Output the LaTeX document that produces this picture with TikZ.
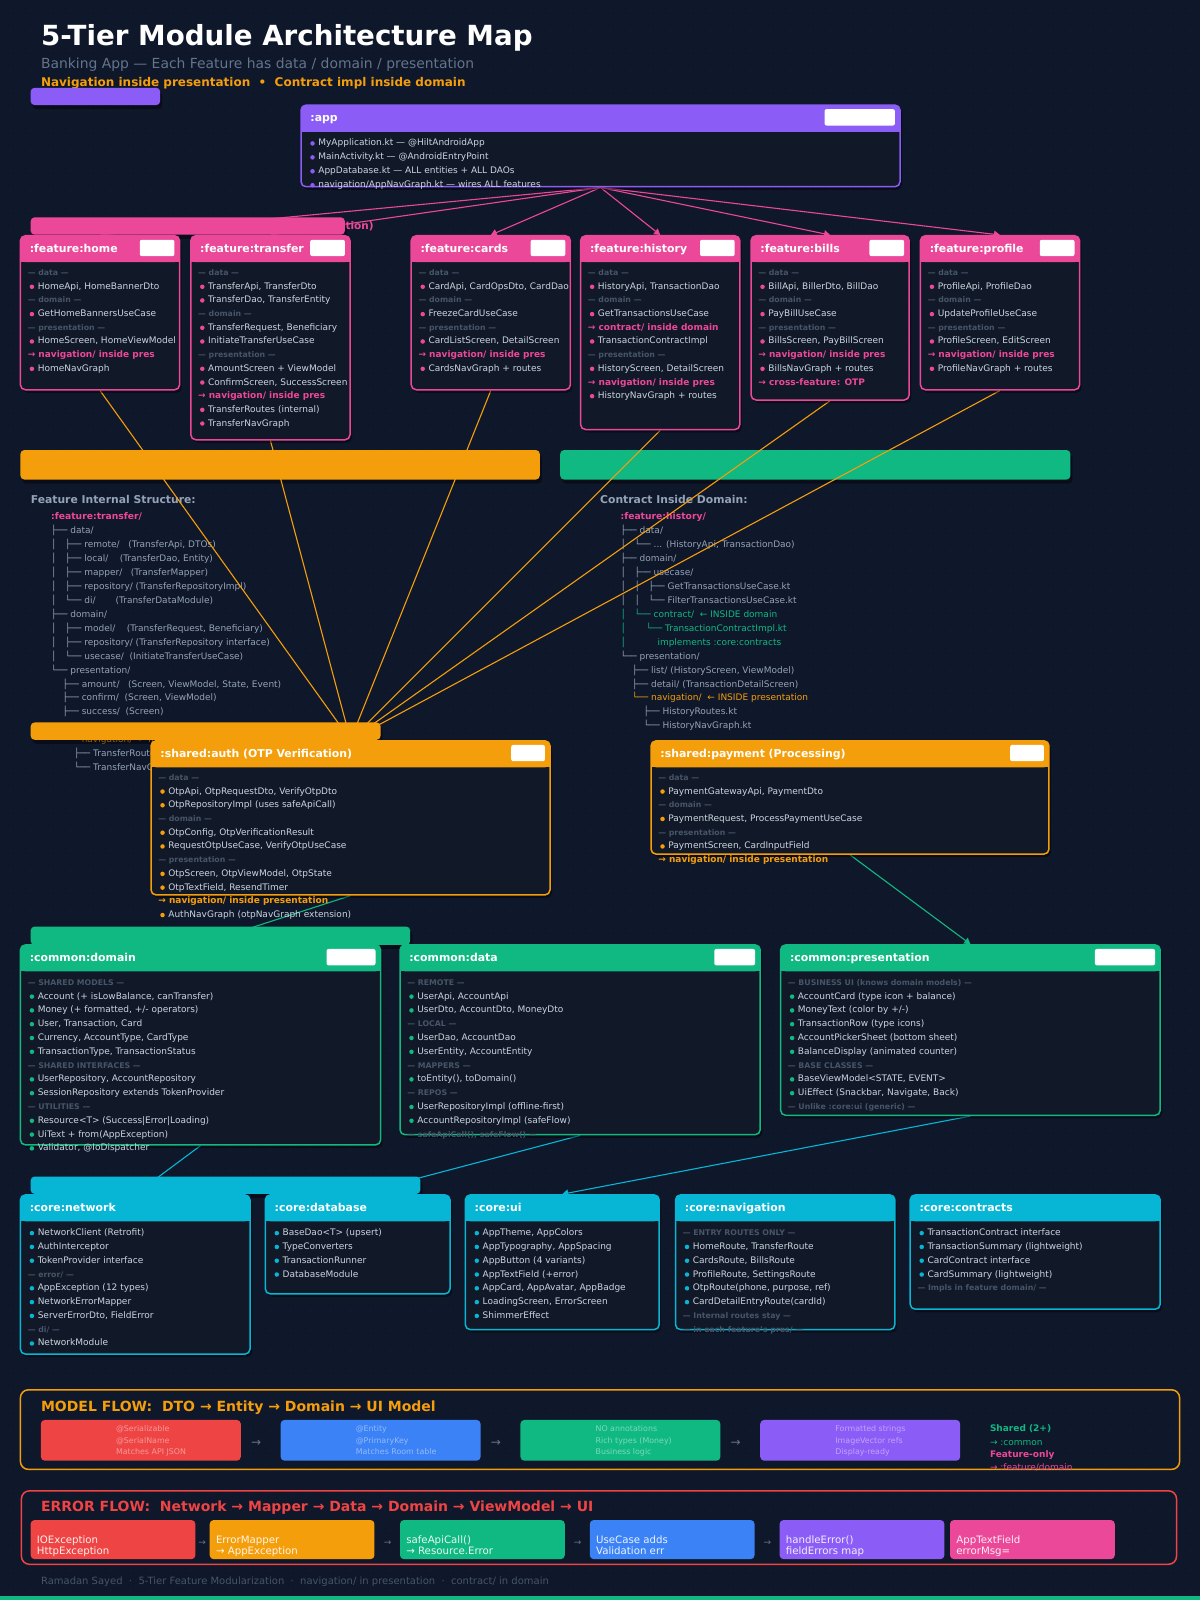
\documentclass[tikz,border=0pt]{standalone}
\usepackage{fontspec}
\setmainfont{DejaVu Sans}
\usetikzlibrary{arrows.meta,fit}
\pgfdeclarelayer{background}
\pgfdeclarelayer{links}
\pgfdeclarelayer{pills}
\pgfsetlayers{background,links,pills,main}

\definecolor{bg}{HTML}{0F172A}
\definecolor{panel}{HTML}{111827}
\definecolor{gridc}{HTML}{1B2539}
\definecolor{purp}{HTML}{8B5CF6}
\definecolor{pinkc}{HTML}{EC4899}
\definecolor{orng}{HTML}{F59E0B}
\definecolor{grn}{HTML}{10B981}
\definecolor{cyn}{HTML}{06B6D4}
\definecolor{redc}{HTML}{EF4444}
\definecolor{blu}{HTML}{3B82F6}
\definecolor{txt}{HTML}{CBD5E1}
\definecolor{muted}{HTML}{94A3B8}
\definecolor{sub}{HTML}{64748B}
\definecolor{dim}{HTML}{475569}

\tikzset{
  item/.style={anchor=base west, inner sep=0pt, text height=6.5pt, text depth=1.5pt, text=txt, font=\fontsize{9}{11}\selectfont},
  sc/.style={item, text=dim, font=\fontsize{7.8}{9}\selectfont\bfseries},
  bl/.style={item, xshift=10pt, label={[circle, fill=\curacc, inner sep=0pt, minimum size=4.5pt, text height=0pt, text depth=0pt, xshift=-3.2pt]west:{}}},
  ar/.style={item, text=\curacc, font=\fontsize{9}{11}\selectfont\bfseries},
  tr/.style={item, text=muted},
  trp/.style={item, text=pinkc, font=\fontsize{9.2}{11}\selectfont\bfseries},
  trg/.style={item, text=grn},
  tro/.style={item, text=orng},
  treehead/.style={anchor=base west, inner sep=0pt, text=muted, font=\fontsize{10.8}{12}\selectfont\bfseries},
  boxtitle/.style={anchor=base west, inner sep=0pt, text=white, font=\fontsize{10.9}{12}\selectfont\bfseries},
  modframe/.style={draw=#1, line width=1.5pt, rounded corners=5pt, inner sep=0pt},
  link/.style={draw=#1, line width=1.1pt, -{Triangle[width=7pt,length=6pt]}},
  flowtitle/.style={anchor=base west, inner sep=0pt, font=\fontsize{14}{16}\selectfont\bfseries},
  cardtxt/.style={anchor=base west, inner sep=0pt, text=white, text opacity=.45, font=\fontsize{7.9}{9}\selectfont},
  errtxt/.style={anchor=base west, inner sep=0pt, text=white, text opacity=.9, font=\fontsize{10.2}{12}\selectfont},
  flowarrow/.style={inner sep=0pt, text=sub, font=\fontsize{12}{12}\selectfont},
  sidetxt/.style={anchor=base west, inner sep=0pt, font=\fontsize{9}{11}\selectfont}
}

\newcommand\modbox[8]{%
  \fill[black, opacity=.4, rounded corners=5pt] (#2+2,#3+3) rectangle (#4+2,#5+3);
  \fill[panel, rounded corners=5pt] (#2,#3) rectangle (#4,#5);
  \fill[#6, rounded corners=5pt] (#2,#3) rectangle (#4,#3+26);
  \fill[#6] (#2,#3+12) rectangle (#4,#3+26);
  \node[modframe=#6, fit={(#2,#3) (#4,#5)}] (#1) {};
  \node[boxtitle] (#1-title) at (#2+9,#3+16) {#7};
  \ifnum#8>0 \fill[white, rounded corners=2pt] (#4-5-#8,#3+4) rectangle (#4-5,#3+20);\fi
}
\newcommand\modlist[6]{%
  \def\curacc{#5}%
  \foreach \knd/\itm [count=\ix from 0] in {#6}{%
    \node[\knd] (#1\ix) at (#2,#3+3.2+\ix*#4) {\itm};
  }}
\newcommand\pill[5]{%
  \fill[black, opacity=.4, rounded corners=4pt] (#1+2,#2+4) rectangle (#3+2,#4+4);
  \fill[#5, rounded corners=4pt] (#1,#2) rectangle (#3,#4);}

\begin{document}
\begin{tikzpicture}[x=1.0204pt, y=-1.0204pt]
\useasboundingbox (0,0) rectangle (1176,1568);

\begin{pgfonlayer}{background}
\fill[bg] (0,0) rectangle (1176,1568);
\foreach \gx in {10,29.6,...,1176}
  \foreach \gy in {10,29.6,...,1568}
    \fill[gridc] (\gx,\gy) circle (0.6pt);
\node[anchor=base west, inner sep=0pt, text=orng, font=\fontsize{12}{14}\selectfont\bfseries] (tagline) at (40,84.3) {Navigation inside presentation~~•~~Contract impl inside domain};
\pill{20}{441}{529}{470}{orng}
\pill{549}{441}{1049}{470}{grn}
\node[treehead] (lefthead) at (30,493) {Feature Internal Structure:};
\node[treehead] (righthead) at (588,493) {Contract Inside Domain:};
\modlist{ltree}{50}{506.3}{13.65}{muted}{trp/{:feature:transfer/},
  tr/{├── data/},
  tr/{│~~~├── remote/~~~(TransferApi, DTOs)},
  tr/{│~~~├── local/~~~~(TransferDao, Entity)},
  tr/{│~~~├── mapper/~~~(TransferMapper)},
  tr/{│~~~├── repository/ (TransferRepositoryImpl)},
  tr/{│~~~└── di/~~~~~~~(TransferDataModule)},
  tr/{├── domain/},
  tr/{│~~~├── model/~~~~(TransferRequest, Beneficiary)},
  tr/{│~~~├── repository/ (TransferRepository interface)},
  tr/{│~~~└── usecase/~~(InitiateTransferUseCase)},
  tr/{└── presentation/},
  tr/{~~~~├── amount/~~~(Screen, ViewModel, State, Event)},
  tr/{~~~~├── confirm/~~(Screen, ViewModel)},
  tr/{~~~~├── success/~~(Screen)}}
\modlist{ltreeb}{50}{724.7}{13.65}{muted}{tro/{~~~~└── navigation/~~← INSIDE presentation},
  tr/{~~~~~~~~├── TransferRoutes.kt},
  tr/{~~~~~~~~└── TransferNavGraph.kt}}
\modlist{rtree}{608}{506.3}{13.65}{muted}{trp/{:feature:history/},
  tr/{├── data/},
  tr/{│~~~└── ... (HistoryApi, TransactionDao)},
  tr/{├── domain/},
  tr/{│~~~├── usecase/},
  tr/{│~~~│~~~├── GetTransactionsUseCase.kt},
  tr/{│~~~│~~~└── FilterTransactionsUseCase.kt},
  trg/{│~~~└── contract/~~← INSIDE domain},
  trg/{│~~~~~~~└── TransactionContractImpl.kt},
  trg/{│~~~~~~~~~~~implements :core:contracts},
  tr/{└── presentation/},
  tr/{~~~~├── list/ (HistoryScreen, ViewModel)},
  tr/{~~~~├── detail/ (TransactionDetailScreen)},
  tro/{~~~~└── navigation/~~← INSIDE presentation},
  tr/{~~~~~~~~├── HistoryRoutes.kt},
  tr/{~~~~~~~~└── HistoryNavGraph.kt}}
\end{pgfonlayer}

\node[anchor=base west, inner sep=0pt, text=white, font=\fontsize{27.7}{32}\selectfont\bfseries] (title) at (40,44.8) {5-Tier Module Architecture Map};
\node[anchor=base west, inner sep=0pt, text=sub, font=\fontsize{13.9}{16}\selectfont] (subtitle) at (40,67) {Banking App — Each Feature has data / domain / presentation};

\modbox{app}{295}{103}{882}{183}{purp}{:app}{69}
\modlist{app}{302}{139.8}{13.65}{purp}{bl/{MyApplication.kt — @HiltAndroidApp},
  bl/{MainActivity.kt — @AndroidEntryPoint},
  bl/{AppDatabase.kt — ALL entities + ALL DAOs},
  bl/{navigation/AppNavGraph.kt — wires ALL features}}

\modbox{home}{20}{231}{176}{382}{pinkc}{:feature:home}{34}
\modlist{home}{27}{266.9}{13.4}{pinkc}{sc/{— data —}, bl/{HomeApi, HomeBannerDto},
  sc/{— domain —}, bl/{GetHomeBannersUseCase},
  sc/{— presentation —}, bl/{HomeScreen, HomeViewModel},
  ar/{→ navigation/ inside pres}, bl/{HomeNavGraph}}
\modbox{transfer}{187}{231}{343}{431}{pinkc}{:feature:transfer}{34}
\modlist{transfer}{194}{266.9}{13.4}{pinkc}{sc/{— data —}, bl/{TransferApi, TransferDto},
  bl/{TransferDao, TransferEntity},
  sc/{— domain —}, bl/{TransferRequest, Beneficiary}, bl/{InitiateTransferUseCase},
  sc/{— presentation —}, bl/{AmountScreen + ViewModel}, bl/{ConfirmScreen, SuccessScreen},
  ar/{→ navigation/ inside pres}, bl/{TransferRoutes (internal)}, bl/{TransferNavGraph}}
\modbox{cards}{403}{231}{559}{382}{pinkc}{:feature:cards}{34}
\modlist{cards}{410}{266.9}{13.4}{pinkc}{sc/{— data —}, bl/{CardApi, CardOpsDto, CardDao},
  sc/{— domain —}, bl/{FreezeCardUseCase},
  sc/{— presentation —}, bl/{CardListScreen, DetailScreen},
  ar/{→ navigation/ inside pres}, bl/{CardsNavGraph + routes}}
\modbox{history}{569}{231}{725}{421}{pinkc}{:feature:history}{34}
\modlist{history}{576}{266.9}{13.4}{pinkc}{sc/{— data —}, bl/{HistoryApi, TransactionDao},
  sc/{— domain —}, bl/{GetTransactionsUseCase},
  ar/{→ contract/ inside domain}, bl/{TransactionContractImpl},
  sc/{— presentation —}, bl/{HistoryScreen, DetailScreen},
  ar/{→ navigation/ inside pres}, bl/{HistoryNavGraph + routes}}
\modbox{bills}{736}{231}{891}{392}{pinkc}{:feature:bills}{34}
\modlist{bills}{743}{266.9}{13.4}{pinkc}{sc/{— data —}, bl/{BillApi, BillerDto, BillDao},
  sc/{— domain —}, bl/{PayBillUseCase},
  sc/{— presentation —}, bl/{BillsScreen, PayBillScreen},
  ar/{→ navigation/ inside pres}, bl/{BillsNavGraph + routes},
  ar/{→ cross-feature: OTP}}
\modbox{profile}{902}{231}{1058}{382}{pinkc}{:feature:profile}{34}
\modlist{profile}{909}{266.9}{13.4}{pinkc}{sc/{— data —}, bl/{ProfileApi, ProfileDao},
  sc/{— domain —}, bl/{UpdateProfileUseCase},
  sc/{— presentation —}, bl/{ProfileScreen, EditScreen},
  ar/{→ navigation/ inside pres}, bl/{ProfileNavGraph + routes}}

\modbox{auth}{148}{726}{539}{877}{orng}{:shared:auth (OTP Verification)}{33}
\modlist{auth}{155}{761.5}{13.45}{orng}{sc/{— data —},
  bl/{OtpApi, OtpRequestDto, VerifyOtpDto}, bl/{OtpRepositoryImpl (uses safeApiCall)},
  sc/{— domain —}, bl/{OtpConfig, OtpVerificationResult}, bl/{RequestOtpUseCase, VerifyOtpUseCase},
  sc/{— presentation —}, bl/{OtpScreen, OtpViewModel, OtpState}, bl/{OtpTextField, ResendTimer},
  ar/{→ navigation/ inside presentation}, bl/{AuthNavGraph (otpNavGraph extension)}}
\modbox{payment}{638}{726}{1028}{837}{orng}{:shared:payment (Processing)}{33}
\modlist{payment}{645}{761.5}{13.45}{orng}{sc/{— data —}, bl/{PaymentGatewayApi, PaymentDto},
  sc/{— domain —}, bl/{PaymentRequest, ProcessPaymentUseCase},
  sc/{— presentation —}, bl/{PaymentScreen, CardInputField},
  ar/{→ navigation/ inside presentation}}

\modbox{cdomain}{20}{926}{373}{1122}{grn}{:common:domain}{48}
\modlist{cdomain}{27}{962.4}{13.52}{grn}{sc/{— SHARED MODELS —},
  bl/{Account (+ isLowBalance, canTransfer)}, bl/{Money (+ formatted, +/- operators)},
  bl/{User, Transaction, Card}, bl/{Currency, AccountType, CardType},
  bl/{TransactionType, TransactionStatus},
  sc/{— SHARED INTERFACES —}, bl/{UserRepository, AccountRepository},
  bl/{SessionRepository extends TokenProvider},
  sc/{— UTILITIES —}, bl/{Resource<T> (Success|Error|Loading)},
  bl/{UiText + from(AppException)}, bl/{Validator, @IoDispatcher}}
\modbox{cdata}{392}{926}{745}{1112}{grn}{:common:data}{40}
\modlist{cdata}{399}{962.4}{13.52}{grn}{sc/{— REMOTE —}, bl/{UserApi, AccountApi},
  bl/{UserDto, AccountDto, MoneyDto},
  sc/{— LOCAL —}, bl/{UserDao, AccountDao}, bl/{UserEntity, AccountEntity},
  sc/{— MAPPERS —}, bl/{toEntity(), toDomain()},
  sc/{— REPOS —}, bl/{UserRepositoryImpl (offline-first)}, bl/{AccountRepositoryImpl (safeFlow)},
  sc/{— safeApiCall(), safeFlow() —}}
\modbox{cpres}{765}{926}{1137}{1093}{grn}{:common:presentation}{59}
\modlist{cpres}{772}{962.4}{13.52}{grn}{sc/{— BUSINESS UI (knows domain models) —},
  bl/{AccountCard (type icon + balance)}, bl/{MoneyText (color by +/-)},
  bl/{TransactionRow (type icons)}, bl/{AccountPickerSheet (bottom sheet)},
  bl/{BalanceDisplay (animated counter)},
  sc/{— BASE CLASSES —}, bl/{BaseViewModel<STATE, EVENT>},
  bl/{UiEffect (Snackbar, Navigate, Back)},
  sc/{— Unlike :core:ui (generic) —}}

\modbox{cnet}{20}{1171}{245}{1327}{cyn}{:core:network}{0}
\modlist{cnet}{27}{1207.7}{13.52}{cyn}{bl/{NetworkClient (Retrofit)}, bl/{AuthInterceptor},
  bl/{TokenProvider interface},
  sc/{— error/ —}, bl/{AppException (12 types)}, bl/{NetworkErrorMapper},
  bl/{ServerErrorDto, FieldError},
  sc/{— di/ —}, bl/{NetworkModule}}
\modbox{cdb}{260}{1171}{441}{1268}{cyn}{:core:database}{0}
\modlist{cdb}{267}{1207.7}{13.52}{cyn}{bl/{BaseDao<T> (upsert)}, bl/{TypeConverters},
  bl/{TransactionRunner}, bl/{DatabaseModule}}
\modbox{cui}{456}{1171}{646}{1303}{cyn}{:core:ui}{0}
\modlist{cui}{463}{1207.7}{13.52}{cyn}{bl/{AppTheme, AppColors}, bl/{AppTypography, AppSpacing},
  bl/{AppButton (4 variants)}, bl/{AppTextField (+error)},
  bl/{AppCard, AppAvatar, AppBadge}, bl/{LoadingScreen, ErrorScreen},
  bl/{ShimmerEffect}}
\modbox{cnav}{662}{1171}{877}{1303}{cyn}{:core:navigation}{0}
\modlist{cnav}{669}{1207.7}{13.52}{cyn}{sc/{— ENTRY ROUTES ONLY —},
  bl/{HomeRoute, TransferRoute}, bl/{CardsRoute, BillsRoute},
  bl/{ProfileRoute, SettingsRoute}, bl/{OtpRoute(phone, purpose, ref)},
  bl/{CardDetailEntryRoute(cardId)},
  sc/{— Internal routes stay —}, sc/{— in each feature's pres/ —}}
\modbox{ccon}{892}{1171}{1137}{1283}{cyn}{:core:contracts}{0}
\modlist{ccon}{899}{1207.7}{13.52}{cyn}{bl/{TransactionContract interface},
  bl/{TransactionSummary (lightweight)}, bl/{CardContract interface},
  bl/{CardSummary (lightweight)}, sc/{— Impls in feature domain/ —}}

\begin{pgfonlayer}{links}
\foreach \f in {home,transfer,cards,history,bills,profile}
  \draw[link=pinkc] (app.south) -- (\f.north);
\foreach \f in {home,transfer,cards,history,bills,profile}
  \draw[link=orng] (\f.south) -- (auth.north);
\draw[link=grn] (auth.south) -- (cdomain.north);
\draw[link=grn] (payment.south) -- (cpres.north);
\draw[link=cyn] (cdomain.south) -- (cnet.north);
\draw[link=cyn] (cdata.south) -- (cdb.north);
\draw[link=cyn] (cpres.south) -- (cui.north);
\end{pgfonlayer}

\begin{pgfonlayer}{pills}
\pill{30}{86}{157}{103}{purp}
\pill{30}{213}{338}{230}{pinkc}
\node[anchor=base west, inner sep=0pt, text=pinkc, font=\fontsize{10.5}{12}\selectfont\bfseries] (pinktail) at (338.5,225) {tion)};
\pill{30}{708}{373}{725}{orng}
\pill{30}{908}{402}{926}{grn}
\pill{30}{1153}{412}{1170}{cyn}
\end{pgfonlayer}

\node[fit={(20,1362) (1156,1440)}, draw=orng, line width=1.5pt, rounded corners=8pt, inner sep=0pt] (modelflow) {};
\node[flowtitle, text=orng] (modeltitle) at (40,1383) {MODEL FLOW:~~DTO → Entity → Domain → UI Model};
\foreach \cx/\cc/\ta/\tb/\tc [count=\n] in {40/redc/@Serializable/@SerialName/Matches API JSON,
  275/blu/@Entity/@PrimaryKey/Matches Room table,
  510/grn/NO annotations/Rich types (Money)/Business logic,
  745/purp/Formatted strings/ImageVector refs/Display-ready}{
  \fill[\cc, rounded corners=4pt] (\cx,1391.5) rectangle (\cx+196,1431.5);
  \node[cardtxt] (model\n a) at (\cx+73.5,1402.7) {\ta};
  \node[cardtxt] (model\n b) at (\cx+73.5,1414.2) {\tb};
  \node[cardtxt] (model\n c) at (\cx+73.5,1425.7) {\tc};
}
\node[flowarrow] (marrow1) at (251,1414) {→};
\node[flowarrow] (marrow2) at (486,1414) {→};
\node[flowarrow] (marrow3) at (721,1414) {→};
\node[sidetxt, text=grn, font=\fontsize{9}{11}\selectfont\bfseries] (shared) at (970,1403.2) {Shared (2+)};
\node[sidetxt, text=grn] (sharedto) at (970,1416.2) {→ :common};
\node[sidetxt, text=pinkc, font=\fontsize{9}{11}\selectfont\bfseries] (featonly) at (970,1428.8) {Feature-only};
\node[sidetxt, text=pinkc] (featonlyto) at (970,1441.2) {→ :feature/domain};

\node[fit={(21,1461) (1153,1533)}, draw=redc, line width=1.5pt, rounded corners=8pt, inner sep=0pt] (errorflow) {};
\node[flowtitle, text=redc] (errortitle) at (40,1481.6) {ERROR FLOW:~~Network → Mapper → Data → Domain → ViewModel → UI};
\foreach \cx/\cc/\ta/\tb [count=\n] in {30/redc/IOException/HttpException,
  205.5/orng/ErrorMapper/{→ AppException},
  392/grn/safeApiCall()/{→ Resource.Error},
  578/blu/UseCase adds/Validation err,
  764/purp/handleError()/fieldErrors map,
  931/pinkc/AppTextField/errorMsg=}{
  \fill[\cc, rounded corners=4pt] (\cx,1489.6) rectangle (\cx+161.5,1528);
  \node[errtxt] (err\n a) at (\cx+6,1512.4) {\ta};
  \node[errtxt] (err\n b) at (\cx+6,1523.8) {\tb};
}
\node[flowarrow, font=\fontsize{9}{9}\selectfont] (earrow1) at (198,1512) {→};
\node[flowarrow, font=\fontsize{9}{9}\selectfont] (earrow2) at (380,1512) {→};
\node[flowarrow, font=\fontsize{9}{9}\selectfont] (earrow3) at (566,1512) {→};
\node[flowarrow, font=\fontsize{9}{9}\selectfont] (earrow4) at (752,1512) {→};

\node[anchor=base west, inner sep=0pt, text=dim, font=\fontsize{10}{12}\selectfont] (footer) at (40,1553) {Ramadan Sayed~~·~~5-Tier Feature Modularization~~·~~navigation/ in presentation~~·~~contract/ in domain};
\fill[grn] (0,1564) rectangle (1176,1568);
\end{tikzpicture}
\end{document}
